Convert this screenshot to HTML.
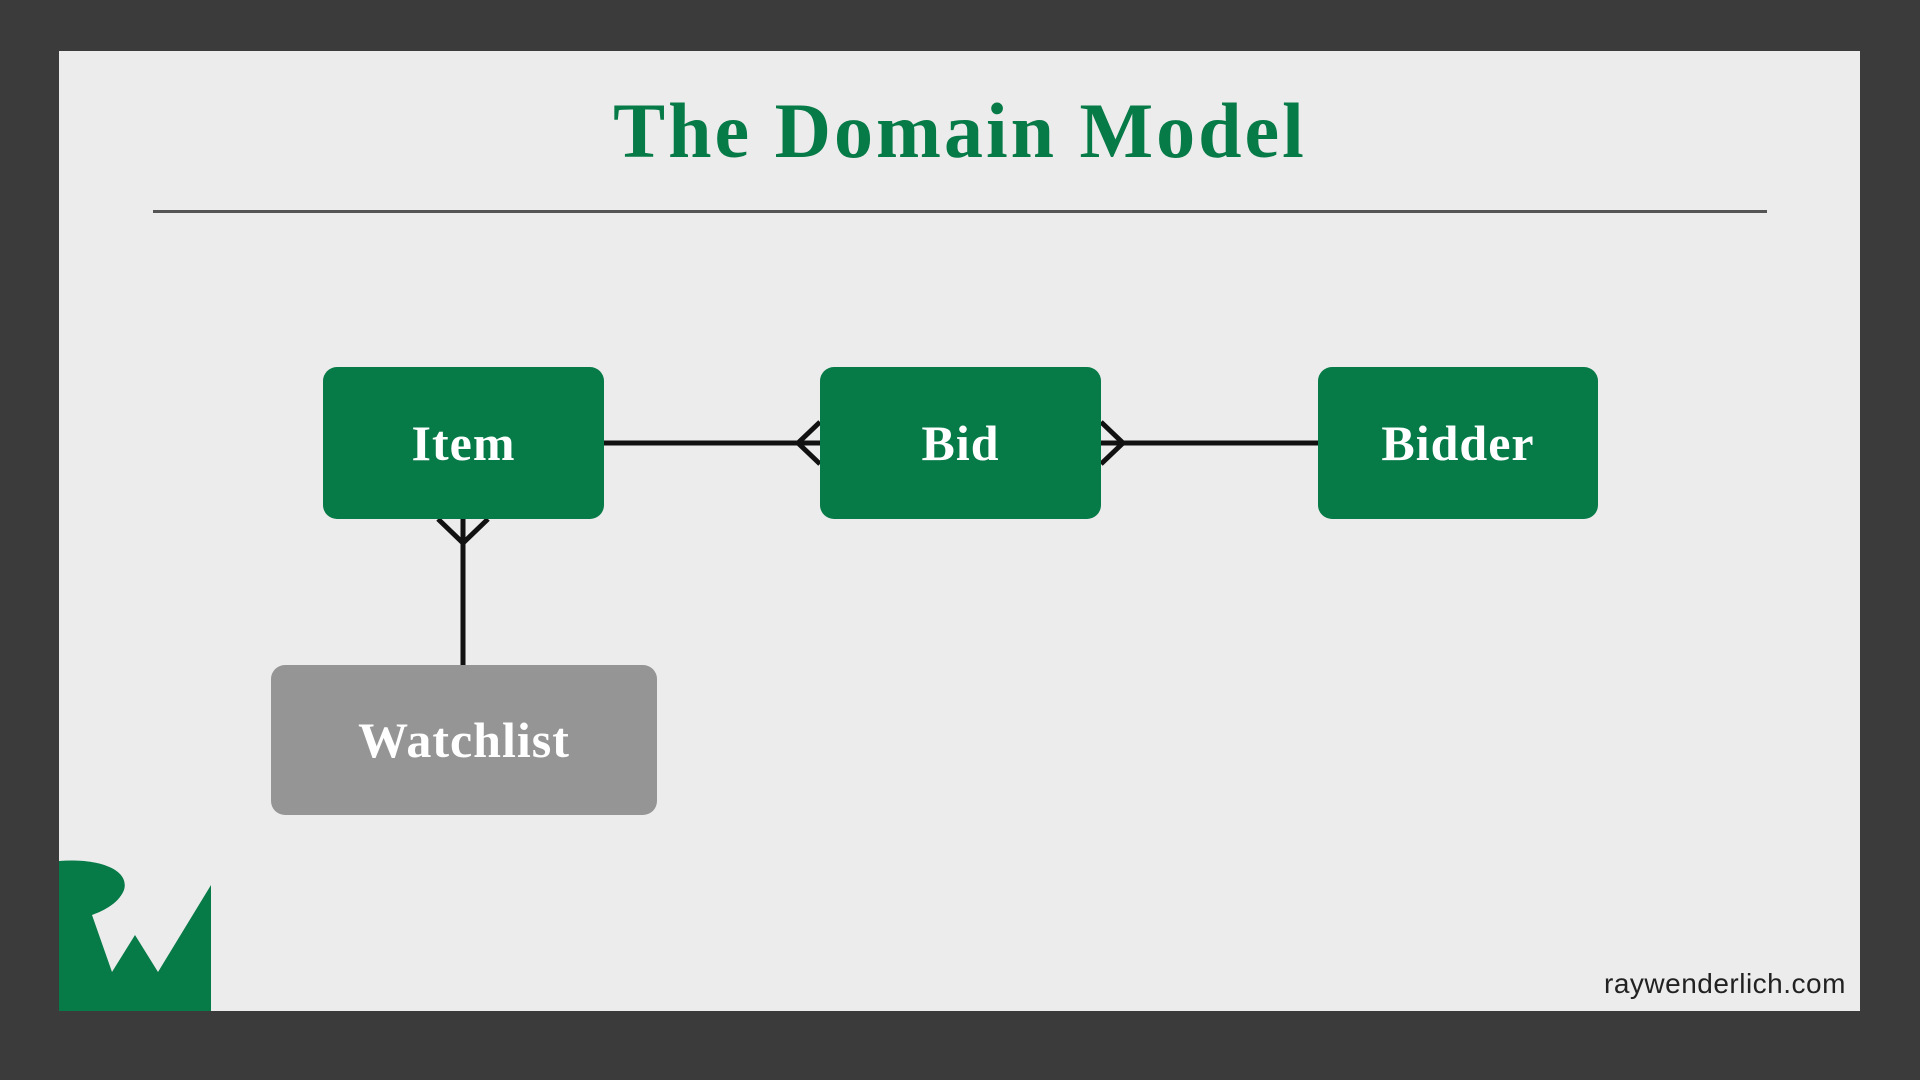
<!DOCTYPE html>
<html><head><meta charset="utf-8"><style>
html,body{margin:0;padding:0;width:1920px;height:1080px;overflow:hidden;background:#3b3b3b;}
.card{position:absolute;left:59px;top:51px;width:1801px;height:960px;background:#ececec;}
.t{position:absolute;left:0;width:1920px;top:86px;text-align:center;font-family:"Liberation Serif",serif;font-weight:bold;font-size:78px;color:#067a47;letter-spacing:3px;}
.box{position:absolute;background:#067a47;border-radius:14px;color:#fff;font-family:"Liberation Serif",serif;font-weight:bold;font-size:50px;letter-spacing:1px;display:flex;align-items:center;justify-content:center;}
.rw{position:absolute;left:1604px;top:968px;font-family:"Liberation Sans",sans-serif;font-size:28px;color:#222;letter-spacing:0.5px;}
</style></head><body>
<div class="card"></div>
<div class="t">The Domain Model</div>
<div style="position:absolute;left:153px;top:210px;width:1614px;height:3px;background:#555"></div>
<svg width="1920" height="1080" style="position:absolute;left:0;top:0">
<g stroke="#111" stroke-width="5" fill="none">
<line x1="604" y1="443" x2="820" y2="443"/>
<polyline points="820,422 798,443 820,464"/>
<line x1="1101" y1="443" x2="1318" y2="443"/>
<polyline points="1101,422 1123,443 1101,464"/>
<line x1="463" y1="519" x2="463" y2="665"/>
<polyline points="438,519 463,543 488,519"/>
</g>
<path d="M59,861 C100,858 130,870 124,890 C118,905 100,912 92,915 L112,972 L135,935 L158,972 L211,885 L211,1011 L59,1011 Z" fill="#067a47"/>
</svg>
<div class="box" style="left:323px;top:367px;width:281px;height:152px">Item</div>
<div class="box" style="left:820px;top:367px;width:281px;height:152px">Bid</div>
<div class="box" style="left:1318px;top:367px;width:280px;height:152px">Bidder</div>
<div class="box" style="left:271px;top:665px;width:386px;height:150px;background:#959595">Watchlist</div>
<div class="rw">raywenderlich.com</div>
</body></html>
